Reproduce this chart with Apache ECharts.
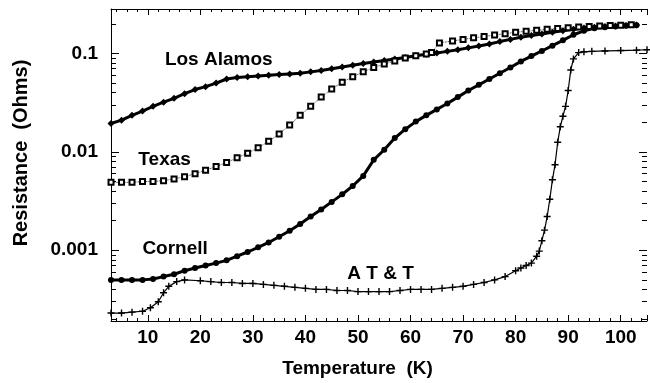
<!DOCTYPE html>
<html>
<head>
<meta charset="utf-8">
<script src="https://cdn.jsdelivr.net/npm/echarts@6/dist/echarts.min.js"></script>
<style>
  html, body { margin: 0; padding: 0; background: #fff; }
  #chart { width: 650px; height: 383px; }
</style>
</head>
<body>
<div id="chart"></div>
<script>
// Los Alamos (filled diamonds)
var losAlamosT = [3, 5, 7, 9, 11, 13, 15, 17, 19, 21, 23, 25, 27, 29, 31, 33, 35, 37, 39, 41, 43, 45, 47, 49, 51, 53, 55, 57, 59, 61, 63, 65, 67, 69, 71, 73, 75, 77, 79, 81, 83, 85, 87, 89, 91, 93, 95, 97, 99, 101, 103];
var losAlamosR = [0.0194, 0.021, 0.0235, 0.026, 0.029, 0.032, 0.035, 0.039, 0.043, 0.046, 0.050, 0.055, 0.057, 0.058, 0.059, 0.060, 0.061, 0.062, 0.063, 0.065, 0.067, 0.070, 0.073, 0.076, 0.079, 0.082, 0.085, 0.088, 0.091, 0.095, 0.098, 0.101, 0.105, 0.109, 0.114, 0.119, 0.125, 0.132, 0.139, 0.146, 0.152, 0.158, 0.164, 0.170, 0.176, 0.181, 0.185, 0.188, 0.190, 0.192, 0.195];

// Texas (open squares)
var texasT = [3, 5, 7, 9, 11, 13, 15, 17, 19, 21, 23, 25, 27, 29, 31, 33, 35, 37, 39, 41, 43, 45, 47, 49, 51, 53, 55, 57, 59, 61, 63, 64, 65.5, 68, 70, 72, 74, 76, 78, 80, 82, 84, 86, 88, 90, 92, 94, 96, 98, 100, 102];
var texasR = [0.0049, 0.0049, 0.0049, 0.0050, 0.0050, 0.0051, 0.0053, 0.0056, 0.0060, 0.0065, 0.0071, 0.0078, 0.0087, 0.0097, 0.0110, 0.0128, 0.0152, 0.0187, 0.0235, 0.029, 0.036, 0.0435, 0.051, 0.058, 0.065, 0.072, 0.078, 0.084, 0.090, 0.095, 0.099, 0.102, 0.128, 0.134, 0.139, 0.144, 0.149, 0.154, 0.159, 0.164, 0.168, 0.172, 0.176, 0.179, 0.183, 0.186, 0.188, 0.190, 0.192, 0.194, 0.196];

// Cornell (filled dots)
var cornellT = [3, 5, 7, 9, 11, 13, 15, 17, 19, 21, 23, 25, 27, 29, 31, 33, 35, 37, 39, 41, 43, 45, 47, 49, 51, 53, 55, 57, 59, 61, 63, 65, 67, 69, 71, 73, 75, 77, 79, 81, 83, 85, 87, 89, 91, 93, 95, 97, 99, 101, 103];
var cornellR = [0.00050, 0.00050, 0.00050, 0.00050, 0.00051, 0.00054, 0.00057, 0.00062, 0.00066, 0.00070, 0.00074, 0.00079, 0.00087, 0.00096, 0.00107, 0.00120, 0.00137, 0.00158, 0.00185, 0.0022, 0.0026, 0.0031, 0.0037, 0.0045, 0.0057, 0.0083, 0.0105, 0.0138, 0.0170, 0.0203, 0.0235, 0.0270, 0.031, 0.036, 0.042, 0.048, 0.055, 0.063, 0.072, 0.083, 0.094, 0.106, 0.120, 0.136, 0.155, 0.170, 0.180, 0.185, 0.188, 0.191, 0.194];

// A T & T (plus marks)
var attT = [3, 5, 7, 9, 10.5, 12, 13, 14, 15.5, 17, 20, 22, 24, 26, 28, 30, 32, 34, 36, 38, 40, 42, 44, 46, 48, 50, 52, 54, 56, 58, 60, 62, 64, 66, 68, 70, 72, 74, 76, 78, 80, 81, 82, 83, 84, 84.5, 85, 85.5, 86, 86.5, 87, 87.5, 88, 88.5, 89, 89.5, 90, 90.5, 91, 92, 93, 94.5, 97, 100, 103, 105];
var attR = [0.00023, 0.00023, 0.000235, 0.00024, 0.00026, 0.00030, 0.00037, 0.00043, 0.00048, 0.00050, 0.00049, 0.00048, 0.00047, 0.00047, 0.00046, 0.00046, 0.00045, 0.00044, 0.00043, 0.00042, 0.00041, 0.00040, 0.00040, 0.00039, 0.00039, 0.00038, 0.00038, 0.00038, 0.00038, 0.00039, 0.00040, 0.00040, 0.00040, 0.00041, 0.00042, 0.00043, 0.00045, 0.00047, 0.00050, 0.00054, 0.00062, 0.00066, 0.00070, 0.00074, 0.00087, 0.00098, 0.00125, 0.0016, 0.0022, 0.0033, 0.0052, 0.0074, 0.0125, 0.018, 0.023, 0.029, 0.042, 0.068, 0.088, 0.102, 0.104, 0.105, 0.106, 0.107, 0.108, 0.109];

// curve names, anchored in data units (T, R)
var curveNames = ['Los Alamos', 'Texas', 'Cornell', 'A T & T'];
var nameT = [23.5, 13.2, 15.2, 54.3];
var nameR = [0.087, 0.0083, 0.00104, 0.00058];

function pairs(xs, ys) {
  return xs.map(function (x, i) { return [x, ys[i]]; });
}

var FONT = '"Liberation Sans", Arial, Helvetica, sans-serif';
var plus = 'path://M4,0H6V4H10V6H6V10H4V6H0V4H4Z';

var chart = echarts.init(document.getElementById('chart'));

var xCommon = {
  type: 'value', min: 3, max: 105, splitNumber: 10,
  axisLine: { show: true, onZero: false, lineStyle: { color: '#000', width: 1 } },
  axisTick: { show: true, inside: true, length: 6, lineStyle: { color: '#000' } },
  minorTick: { show: true, splitNumber: 5, length: 3, lineStyle: { color: '#000' } },
  splitLine: { show: false }
};
var yCommon = {
  type: 'log', logBase: 10, min: 0.000191, max: 0.283,
  axisLine: { show: true, onZero: false, lineStyle: { color: '#000', width: 1 } },
  axisTick: { show: true, inside: true, length: 8, lineStyle: { color: '#000' } },
  minorTick: { show: true, splitNumber: 9, length: 5, lineStyle: { color: '#000' } },
  splitLine: { show: false }
};

var option = {
  animation: false,
  backgroundColor: '#fff',
  grid: { left: 111, right: 0, top: 9, bottom: 58 },
  xAxis: [
    Object.assign({}, xCommon, {
      position: 'bottom',
      name: 'Temperature  (K)',
      nameLocation: 'middle',
      nameGap: 38,
      nameTextStyle: { color: '#000', fontFamily: FONT, fontWeight: 'bold', fontSize: 19, padding: [0, 43, 0, 0] },
      axisLabel: {
        color: '#000', fontFamily: FONT, fontWeight: 'bold', fontSize: 19, margin: 7,
        formatter: function (v) { return v % 10 === 0 ? String(v) : ''; }
      }
    }),
    Object.assign({}, xCommon, { position: 'top', axisLabel: { show: false } })
  ],
  yAxis: [
    Object.assign({}, yCommon, {
      position: 'left',
      name: 'Resistance  (Ohms)',
      nameLocation: 'middle',
      nameGap: 80,
      nameTextStyle: { color: '#000', fontFamily: FONT, fontWeight: 'bold', fontSize: 20, padding: [0, 0, 0, 24] },
      axisLabel: {
        color: '#000', fontFamily: FONT, fontWeight: 'bold', fontSize: 19, margin: 13,
        formatter: function (v) {
          var e = Math.log10(v);
          return Math.abs(e - Math.round(e)) < 1e-6 ? String(v) : '';
        }
      }
    }),
    Object.assign({}, yCommon, {
      position: 'right',
      axisLine: { show: false },
      axisLabel: { show: false }
    })
  ],
  series: [
    {
      name: 'Los Alamos', type: 'line', data: pairs(losAlamosT, losAlamosR),
      symbol: 'diamond', symbolSize: 7, showAllSymbol: true,
      itemStyle: { color: '#000' },
      lineStyle: { color: '#000', width: 3 }
    },
    {
      name: 'Texas', type: 'line', data: pairs(texasT, texasR),
      symbol: 'emptyRect', symbolSize: 5, showAllSymbol: true,
      itemStyle: { color: '#000', borderColor: '#000', borderWidth: 1 },
      lineStyle: { color: '#000', width: 0.8, type: 'dotted' }
    },
    {
      name: 'Cornell', type: 'line', data: pairs(cornellT, cornellR),
      symbol: 'circle', symbolSize: 6, showAllSymbol: true,
      itemStyle: { color: '#000' },
      lineStyle: { color: '#000', width: 3 }
    },
    {
      name: 'A T & T', type: 'line', data: pairs(attT, attR),
      symbol: plus, symbolSize: 7, showAllSymbol: true,
      itemStyle: { color: '#000' },
      lineStyle: { color: '#000', width: 1.2 }
    },
    {
      type: 'scatter', symbolSize: 0, silent: true,
      itemStyle: { opacity: 1, color: '#000' },
      data: curveNames.map(function (n, i) { return { value: [nameT[i], nameR[i]], name: n }; }),
      label: {
        show: true, position: 'inside', formatter: '{b}', opacity: 1,
        color: '#000', textBorderWidth: 0,
        fontFamily: FONT, fontWeight: 'bold', fontSize: 19
      }
    }
  ]
};

chart.setOption(option);
window.addEventListener('resize', function () { chart.resize(); });
</script>
</body>
</html>
